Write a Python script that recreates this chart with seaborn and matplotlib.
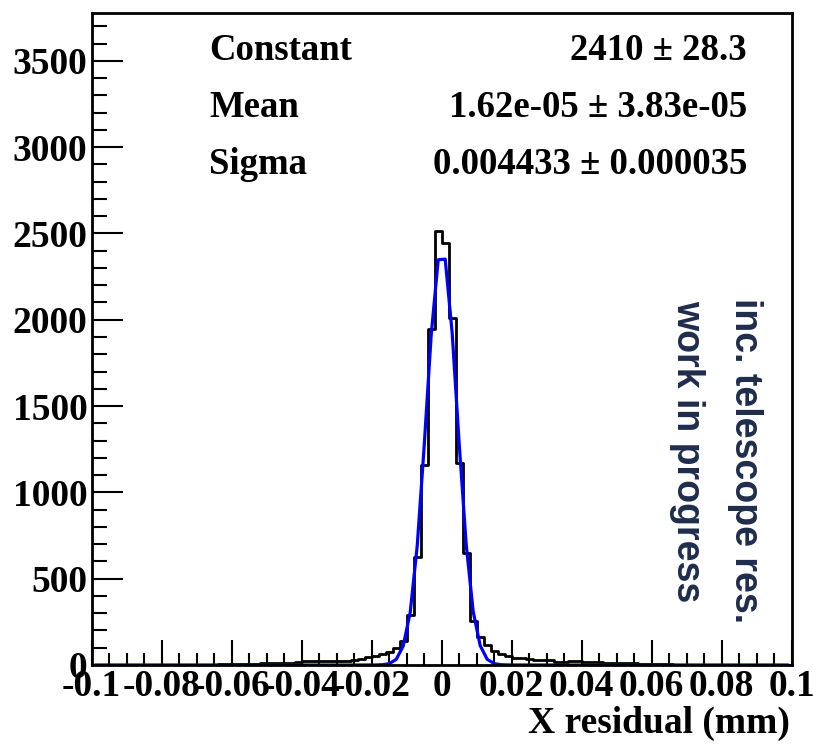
import numpy as np
import pandas as pd
import matplotlib
matplotlib.use("Agg")
import matplotlib.pyplot as plt
import seaborn as sns
from matplotlib.ticker import MultipleLocator, FixedLocator, FixedFormatter

# ---- data ----
bin_lo, bin_hi, n_bins = -0.1, 0.1, 100
counts = [
    0, 0, 0, 0, 1, 0, 0, 1, 0, 1,
    1, 0, 1, 1, 2, 1, 2, 2, 3, 3,
    4, 5, 6, 8, 10, 10, 11, 13, 14, 19,
    22, 23, 22, 23, 24, 23, 25, 27, 33, 44,
    52, 62, 77, 100, 138, 291, 623, 1158, 1948, 2516,
    2443, 2010, 1171, 647, 255, 164, 116, 80, 62, 50,
    42, 39, 36, 30, 29, 28, 20, 19, 23, 22,
    16, 15, 15, 14, 14, 13, 10, 9, 8, 5,
    4, 3, 3, 2, 2, 1, 1, 1, 0, 1,
    0, 1, 0, 0, 0, 0, 0, 0, 0, 0,
]
fit_constant, fit_mean, fit_sigma = 2410.0, 1.62e-05, 0.004433
stat_names = ["Constant", "Mean", "Sigma"]
stat_values = ["2410 \u00b1 28.3", "1.62e-05 \u00b1 3.83e-05", "0.004433 \u00b1 0.000035"]
xtick_vals = [-0.1, -0.08, -0.06, -0.04, -0.02, 0, 0.02, 0.04, 0.06, 0.08, 0.1]
xtick_labels = ["-0.1", "-0.08", "-0.06", "-0.04", "-0.02", "0", "0.02", "0.04", "0.06", "0.08", "0.1"]
xlabel = "X residual (mm)"
note_lines = ["inc. telescope res.", "work in progress"]

binw = (bin_hi - bin_lo) / n_bins
centers = bin_lo + binw * (np.arange(n_bins) + 0.5)
df = pd.DataFrame({"x": centers, "n": np.array(counts, dtype=float)})
fit_y = fit_constant * np.exp(-0.5 * ((centers - fit_mean) / fit_sigma) ** 2)
df_fit = pd.DataFrame({"x": centers, "y": fit_y})

sns.set_theme(style="white")
plt.rcParams["font.family"] = ["Liberation Serif", "DejaVu Serif"]
plt.rcParams["font.weight"] = "bold"
plt.rcParams["text.color"] = "black"
plt.rcParams["xtick.color"] = "black"
plt.rcParams["ytick.color"] = "black"
plt.rcParams["xtick.labelcolor"] = "black"
plt.rcParams["ytick.labelcolor"] = "black"

fig = plt.figure(figsize=(8.13, 7.44), dpi=100)
ax = fig.add_axes([0.1128, 0.1062, 0.861, 0.8763])

sns.histplot(data=df, x="x", weights="n", binwidth=binw, binrange=(bin_lo, bin_hi),
             element="step", fill=False, color="black", linewidth=2.0, ax=ax)
sns.lineplot(data=df_fit, x="x", y="y", color="#0000ff", linewidth=2.3, ax=ax)

ax.set_xlim(bin_lo, bin_hi)
ax.set_ylim(0, 3777)
ax.set_xlabel("")
ax.set_ylabel("")

ax.xaxis.set_major_locator(FixedLocator(xtick_vals))
ax.xaxis.set_major_formatter(FixedFormatter(xtick_labels))
ax.xaxis.set_minor_locator(MultipleLocator(0.005))
ax.yaxis.set_major_locator(MultipleLocator(500))
ax.yaxis.set_minor_locator(MultipleLocator(100))

ax.tick_params(axis="x", which="major", direction="in", length=18, width=1.5,
               bottom=True, top=False, labelsize=27, pad=3, colors="black")
ax.tick_params(axis="x", which="minor", direction="in", length=9, width=1.5,
               bottom=True, top=False, colors="black")
ax.tick_params(axis="y", which="major", direction="in", length=22, width=1.5,
               left=True, right=False, labelsize=27, pad=3, colors="black")
ax.tick_params(axis="y", which="minor", direction="in", length=11, width=1.5,
               left=True, right=False, colors="black")
for lab in ax.get_xticklabels() + ax.get_yticklabels():
    lab.set_fontweight("bold")
    lab.set_color("black")

for sp in ax.spines.values():
    sp.set_color("black")
    sp.set_linewidth(2)

ys = [0.942, 0.855, 0.767]
for name, val, yy in zip(stat_names, stat_values, ys):
    ax.text(0.1676, yy, name, transform=ax.transAxes, ha="left", va="center",
            fontsize=26.5, fontweight="bold", color="black")
    ax.text(0.936, yy, val, transform=ax.transAxes, ha="right", va="center",
            fontsize=26.5, fontweight="bold", color="black")

ax.text(0.933, 0.314, note_lines[0], transform=ax.transAxes, rotation=-90,
        ha="center", va="center", fontsize=27, fontweight="bold", color="#1f2d4d",
        family=["Liberation Sans", "DejaVu Sans"])
ax.text(0.850, 0.328, note_lines[1], transform=ax.transAxes, rotation=-90,
        ha="center", va="center", fontsize=27, fontweight="bold", color="#1f2d4d",
        family=["Liberation Sans", "DejaVu Sans"])

fig.text(0.972, 0.028, xlabel, ha="right", va="center", fontsize=27,
         fontweight="bold", color="black")

fig.savefig("out.png", dpi=100, facecolor="white")
